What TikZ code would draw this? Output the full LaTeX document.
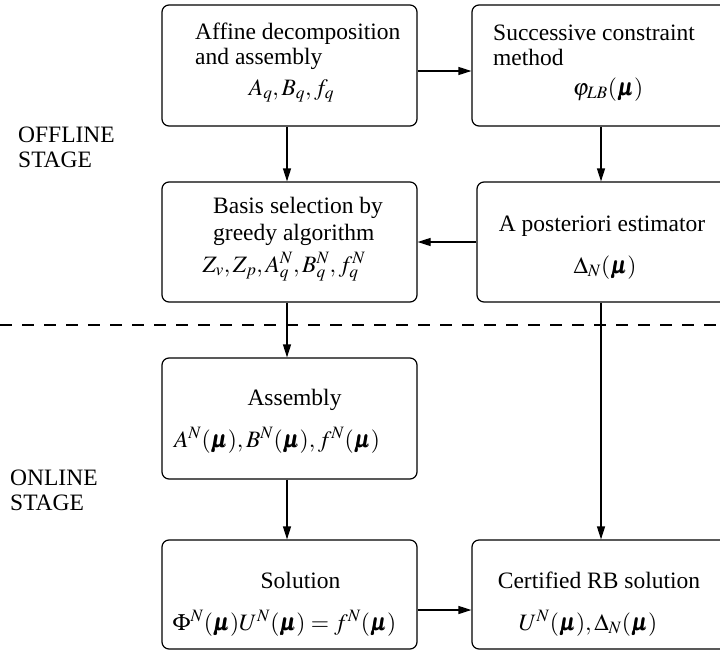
\documentclass[tikz,border=0pt]{standalone}
\usepackage{mathptmx}
\usepackage{bm}
\usepackage[no-math]{fontspec}
\setmainfont{Liberation Serif}
\usetikzlibrary{arrows.meta}
\tikzset{
  box/.style={draw, rounded corners=7pt, line width=1.2pt, inner sep=0pt, minimum width=255pt},
  txt/.style={inner sep=0pt, font=\fontsize{23.5}{26}\selectfont},
  txtl/.style={txt, anchor=base west},
  txtc/.style={txt, anchor=base},
  arr/.style={line width=1.2pt, -{Triangle[length=13pt,width=8pt]}},
  dline/.style={line width=1.1pt, dash pattern=on 12pt off 10pt}
}
\begin{document}
\begin{tikzpicture}[x=1pt,y=-1pt]
\useasboundingbox (0,0) rectangle (720,656);
% boxes
\node[box, minimum height=121pt] (b1) at (289.5,65.5) {};
\node[box, minimum height=121pt, minimum width=258pt] (b2) at (601,65.5) {};
\node[box, minimum height=120pt] (b3) at (289.5,242) {};
\node[box, minimum height=120pt, minimum width=253pt] (b4) at (603.5,242) {};
\node[box, minimum height=121pt] (b5) at (289.5,418.5) {};
\node[box, minimum height=109pt] (b6) at (289.5,594.5) {};
\node[box, minimum height=109pt, minimum width=258pt] (b7) at (601,594.5) {};
% texts
\node[txtl] (t1a) at (195,39) {Affine decomposition};
\node[txtl] (t1b) at (195,64) {and assembly};
\node[txtc] (t1m) at (291.5,95) {$A_q,B_q,f_q$};
\node[txtl] (t2a) at (493,40) {Successive constraint};
\node[txtl] (t2b) at (493,65) {method};
\node[txtc] (t2m) at (608,95) {$\varphi_{LB}(\bm{\mu})$};
\node[txtl] (t3a) at (213,213) {Basis selection by};
\node[txtl] (t3b) at (213,240) {greedy algorithm};
\node[txtc] (t3m) at (284,272) {$Z_v,Z_p,A_q^N,B_q^N,f_q^N$};
\node[txtc] (t4a) at (602,231) {A posteriori estimator};
\node[txtc] (t4m) at (605,273) {$\Delta_N(\bm{\mu})$};
\node[txtc] (t5a) at (294.5,405) {Assembly};
\node[txtc] (t5m) at (277,447) {$A^N(\bm{\mu}),B^N(\bm{\mu}),f^N(\bm{\mu})$};
\node[txtc] (t6a) at (300.5,588) {Solution};
\node[txtc] (t6m) at (284.5,630) {$\Phi^N(\bm{\mu})U^N(\bm{\mu})=f^N(\bm{\mu})$};
\node[txtc] (t7a) at (599,588) {Certified RB solution};
\node[txtc] (t7m) at (588,630) {$U^N(\bm{\mu}),\Delta_N(\bm{\mu})$};
% stage labels
\node[txtl] (off1) at (18,142) {OFFLINE};
\node[txtl] (off2) at (18,167) {STAGE};
\node[txtl] (on1) at (10,485) {ONLINE};
\node[txtl] (on2) at (10,510) {STAGE};
% dashed separator
\coordinate (dl) at (0,325);
\coordinate (dr) at (720,325);
\draw[dline] (dl) -- (dr);
% connectors
\coordinate (a1) at ([yshift=-5.5pt]b1.east);
\draw[arr] (a1) -- (a1 -| b2.west);
\draw[arr] ([xshift=-2.5pt]b1.south) -- ([xshift=-2.5pt]b3.north);
\draw[arr] (b2.south) -- (b2.south |- b4.north);
\draw[arr] (b4.west) -- (b4.west -| b3.east);
\draw[arr] ([xshift=-2.5pt]b3.south) -- ([xshift=-2.5pt]b5.north);
\draw[arr] (b4.south -| b7.north) -- (b7.north);
\draw[arr] ([xshift=-2.5pt]b5.south) -- ([xshift=-2.5pt]b6.north);
\coordinate (a6) at ([yshift=-15.5pt]b6.east);
\draw[arr] (a6) -- (a6 -| b7.west);
\end{tikzpicture}
\end{document}
